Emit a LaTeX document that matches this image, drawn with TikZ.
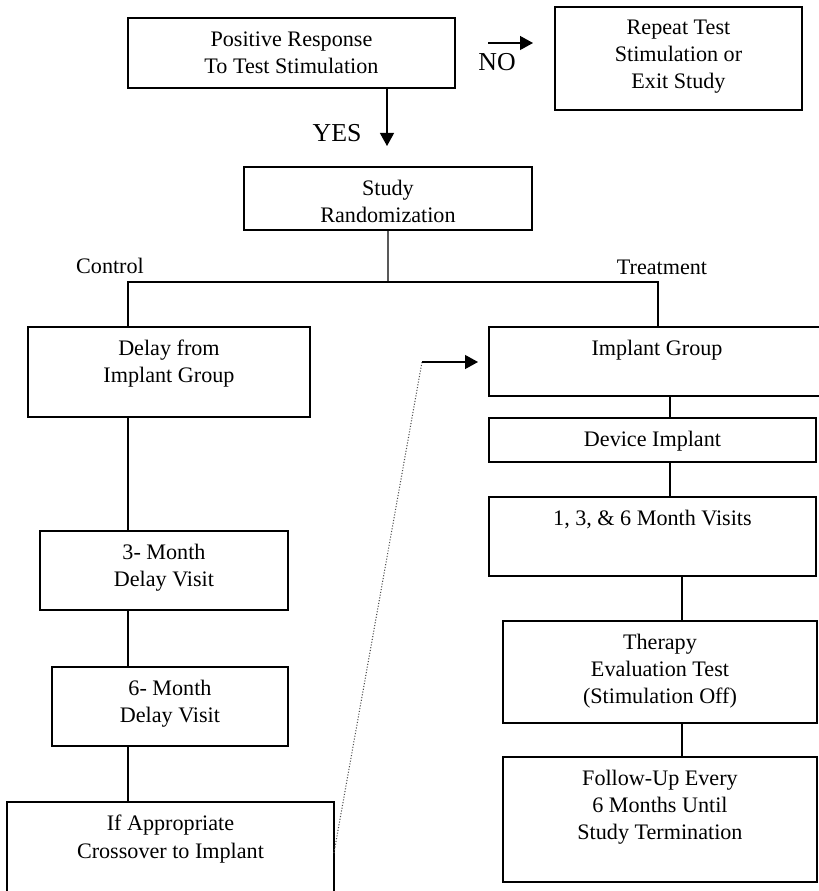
\documentclass[tikz,border=0pt]{standalone}
\usepackage{fontspec}
\setmainfont{Liberation Serif}
\usetikzlibrary{arrows.meta}

\tikzset{
	stage/.style={draw,line width=0.7pt,anchor=north west,inner sep=0pt,outer sep=0pt},
	caption/.style={anchor=north,inner sep=0pt,yshift=-0.26cm,align=center,font=\fontsize{12.6}{15.4}\selectfont},
	arm/.style={inner sep=0pt,font=\fontsize{12.6}{15.4}\selectfont},
	answer/.style={inner sep=0pt,font=\fontsize{14.7}{17}\selectfont},
	link/.style={line width=0.7pt},
	flow/.style={line width=0.7pt,-{Triangle[length=0.26cm,width=0.28cm]}}
}

\begin{document}
\begin{tikzpicture}[x=0.02cm,y=-0.02cm]
	\useasboundingbox (0,0) rectangle (818,891);

	% screening
	\node[stage,minimum width=6.54cm,minimum height=1.40cm,label={[caption]north:{Positive Response\\To Test Stimulation}}] (resp) at (128,18){};
	\node[stage,minimum width=4.94cm,minimum height=2.06cm,label={[caption]north:{Repeat Test\\Stimulation or\\Exit Study}}] (repeat) at (555,7){};
	\node[stage,minimum width=5.76cm,minimum height=1.26cm,label={[caption]north:{Study\\Randomization}}] (rand) at (244,167){};

	\node[answer] (no) at (497,62){NO};
	\node[answer] (yes) at (337,133){YES};
	\coordinate (notail) at (488,43);
	\coordinate (notip) at (533,43);
	\coordinate (yestip) at (387,146);
	\draw[flow] (notail)--(notip);
	\draw[flow] (resp.south -| yestip)--(yestip);

	% control arm
	\node[stage,minimum width=5.64cm,minimum height=1.80cm,label={[caption]north:{Delay from\\Implant Group}}] (delay) at (28,327){};
	\node[stage,minimum width=4.96cm,minimum height=1.58cm,label={[caption]north:{3- Month\\Delay Visit}}] (m3) at (40,531){};
	\node[stage,minimum width=4.72cm,minimum height=1.58cm,label={[caption]north:{6- Month\\Delay Visit}}] (m6) at (52,667){};
	\node[stage,minimum width=6.54cm,minimum height=2.04cm,label={[caption]north:{If Appropriate\\Crossover to Implant}}] (cross) at (7,802){};

	% treatment arm
	\node[stage,minimum width=6.72cm,minimum height=1.38cm,label={[caption]north:{Implant Group}}] (impl) at (489,327){};
	\node[stage,minimum width=6.54cm,minimum height=0.88cm,label={[caption]north:{Device Implant}}] (dev) at (489,418){};
	\node[stage,minimum width=6.54cm,minimum height=1.58cm,label={[caption]north:{1, 3, \& 6 Month Visits}}] (visits) at (489,497){};
	\node[stage,minimum width=6.28cm,minimum height=2.04cm,label={[caption]north:{Therapy\\Evaluation Test\\(Stimulation Off)}}] (ther) at (503,621){};
	\node[stage,minimum width=6.28cm,minimum height=2.50cm,label={[caption]north:{Follow-Up Every\\6 Months Until\\Study Termination}}] (follow) at (503,757){};

	\node[arm] (ctl) at (110,266){Control};
	\node[arm] (trt) at (662,267){Treatment};

	% randomization split
	\coordinate (split) at (388,282);
	\coordinate (ctlx) at (128,282);
	\coordinate (trtx) at (658,282);
	\draw[link] (rand.south)--(split);
	\draw[link] (delay.north -| ctlx) |- (trtx)--(impl.north -| trtx);

	\draw[link] (delay.south -| ctlx)--(m3.north -| ctlx);
	\draw[link] (m3.south -| ctlx)--(m6.north -| ctlx);
	\draw[link] (m6.south -| ctlx)--(cross.north -| ctlx);

	\coordinate (upx) at (670,0);
	\coordinate (lowx) at (682,0);
	\draw[link] (impl.south -| upx)--(dev.north -| upx);
	\draw[link] (dev.south -| upx)--(visits.north -| upx);
	\draw[link] (visits.south -| lowx)--(ther.north -| lowx);
	\draw[link] (ther.south -| lowx)--(follow.north -| lowx);

	% crossover back to the implant group
	\coordinate (bend) at (422,362);
	\coordinate (crosstip) at (478,362);
	\draw[line width=0.6pt,densely dotted,black!70] (cross.east)--(bend);
	\draw[flow] (bend)--(crosstip);
\end{tikzpicture}
\end{document}
